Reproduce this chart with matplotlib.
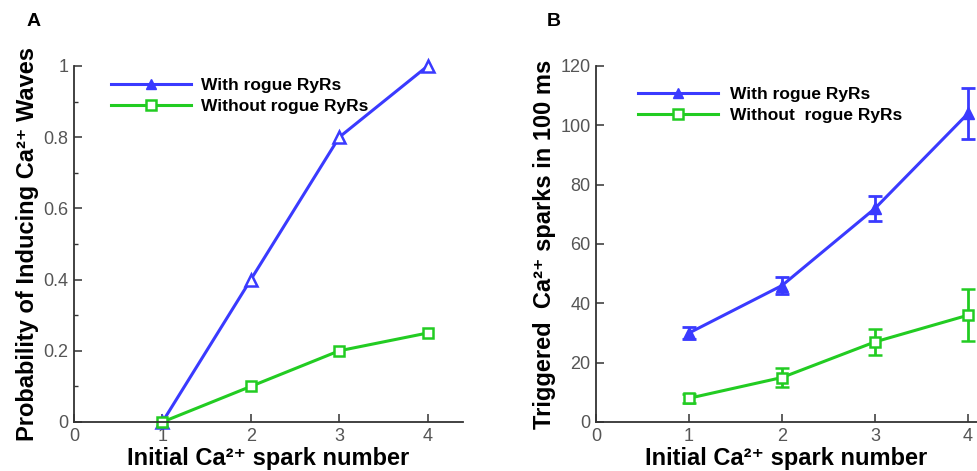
import matplotlib.pyplot as plt
from matplotlib.lines import Line2D
from matplotlib.ticker import MultipleLocator

plt.rcParams['font.family'] = ['Liberation Sans', 'DejaVu Sans']

spark_number = [1, 2, 3, 4]

# panel A: probability of inducing waves
prob_with = [0.0, 0.4, 0.8, 1.0]
prob_without = [0.0, 0.1, 0.2, 0.25]

# panel B: triggered sparks in 100 ms (mean, error)
sparks_with = [30, 46, 72, 104]
sparks_with_err = [2, 3, 4.3, 8.6]
sparks_without = [8, 15, 27, 36]
sparks_without_err = [1.5, 3.2, 4.4, 8.7]

label_with = 'With rogue RyRs'
labels_without = ['Without rogue RyRs', 'Without  rogue RyRs']
xlabel = 'Initial Ca²⁺ spark number'
ylabel_a = 'Probability of Inducing Ca²⁺ Waves'
ylabel_b = 'Triggered  Ca²⁺ sparks in 100 ms'

blue = '#3a3aff'
green = '#22cc22'
tick_color = '#555555'

fig = plt.figure(figsize=(9.77, 4.71), dpi=100)
ax_a = fig.add_axes([74 / 977, 49 / 471, (463 - 74) / 977, 356 / 471])
ax_b = fig.add_axes([596 / 977, 49 / 471, (977 - 596) / 977, 356 / 471])


def style_axes(ax):
    for side in ('top', 'right'):
        ax.spines[side].set_visible(False)
    for side in ('left', 'bottom'):
        ax.spines[side].set_color('#333333')
        ax.spines[side].set_linewidth(1.3)
    ax.tick_params(colors='#333333', labelcolor=tick_color, labelsize=13,
                   direction='in', length=6, width=1.1, pad=4)
    ax.tick_params(which='minor', direction='in', length=3, width=1, colors='#333333')
    ax.set_xticks([0, 1, 2, 3, 4])


def legend_handles():
    h1 = Line2D([], [], color=blue, lw=2.2, marker='^', ms=7, mfc=blue, mec=blue)
    h2 = Line2D([], [], color=green, lw=2.2, marker='s', ms=6.5, mfc='white', mec=green, mew=1.8)
    return h1, h2


# --- A ---
ax_a.plot(spark_number, prob_with, color=blue, lw=2.2, marker='^', ms=8,
          mfc='white', mec=blue, mew=1.8, clip_on=False)
ax_a.plot(spark_number, prob_without, color=green, lw=2.2, marker='s', ms=7.5,
          mfc='white', mec=green, mew=1.8, clip_on=False)
ax_a.set_xlim(0, 4.4)
ax_a.set_ylim(0, 1)
ax_a.set_yticks([0, 0.2, 0.4, 0.6, 0.8, 1])
ax_a.set_yticklabels(['0', '0.2', '0.4', '0.6', '0.8', '1'])
ax_a.yaxis.set_minor_locator(MultipleLocator(0.1))
style_axes(ax_a)
ax_a.set_xlabel(xlabel, fontsize=17, fontweight='bold', labelpad=2)
ax_a.set_ylabel(ylabel_a, fontsize=17, fontweight='bold', labelpad=3)
ax_a.legend(legend_handles(), [label_with, labels_without[0]], loc='upper left',
            bbox_to_anchor=(0.055, 1.01), frameon=False,
            prop={'weight': 'bold', 'size': 12.5}, handlelength=4.6, handletextpad=0.6,
            labelspacing=0.35)
fig.text(27 / 977, 1 - 22 / 471, 'A', fontsize=14, fontweight='bold', va='center')

# --- B ---
ax_b.errorbar(spark_number, sparks_with, yerr=sparks_with_err, color=blue, lw=2.2,
              marker='^', ms=8, mfc=blue, mec=blue, capsize=5, capthick=2, elinewidth=2)
ax_b.errorbar(spark_number, sparks_without, yerr=sparks_without_err, color=green, lw=2.2,
              marker='s', ms=7.5, mfc='white', mec=green, mew=1.8, capsize=5, capthick=2,
              elinewidth=2)
ax_b.set_xlim(0, (977 - 596) / 93)
ax_b.set_ylim(0, 120)
ax_b.set_yticks([0, 20, 40, 60, 80, 100, 120])
style_axes(ax_b)
ax_b.set_xlabel(xlabel, fontsize=17, fontweight='bold', labelpad=2)
ax_b.set_ylabel(ylabel_b, fontsize=17, fontweight='bold', labelpad=3)
ax_b.legend(legend_handles(), [label_with, labels_without[1]], loc='upper left',
            bbox_to_anchor=(0.07, 0.985), frameon=False,
            prop={'weight': 'bold', 'size': 12.5}, handlelength=4.6, handletextpad=0.7,
            labelspacing=0.35)
fig.text(547 / 977, 1 - 22 / 471, 'B', fontsize=14, fontweight='bold', va='center')

fig.savefig('out.png', dpi=100)
